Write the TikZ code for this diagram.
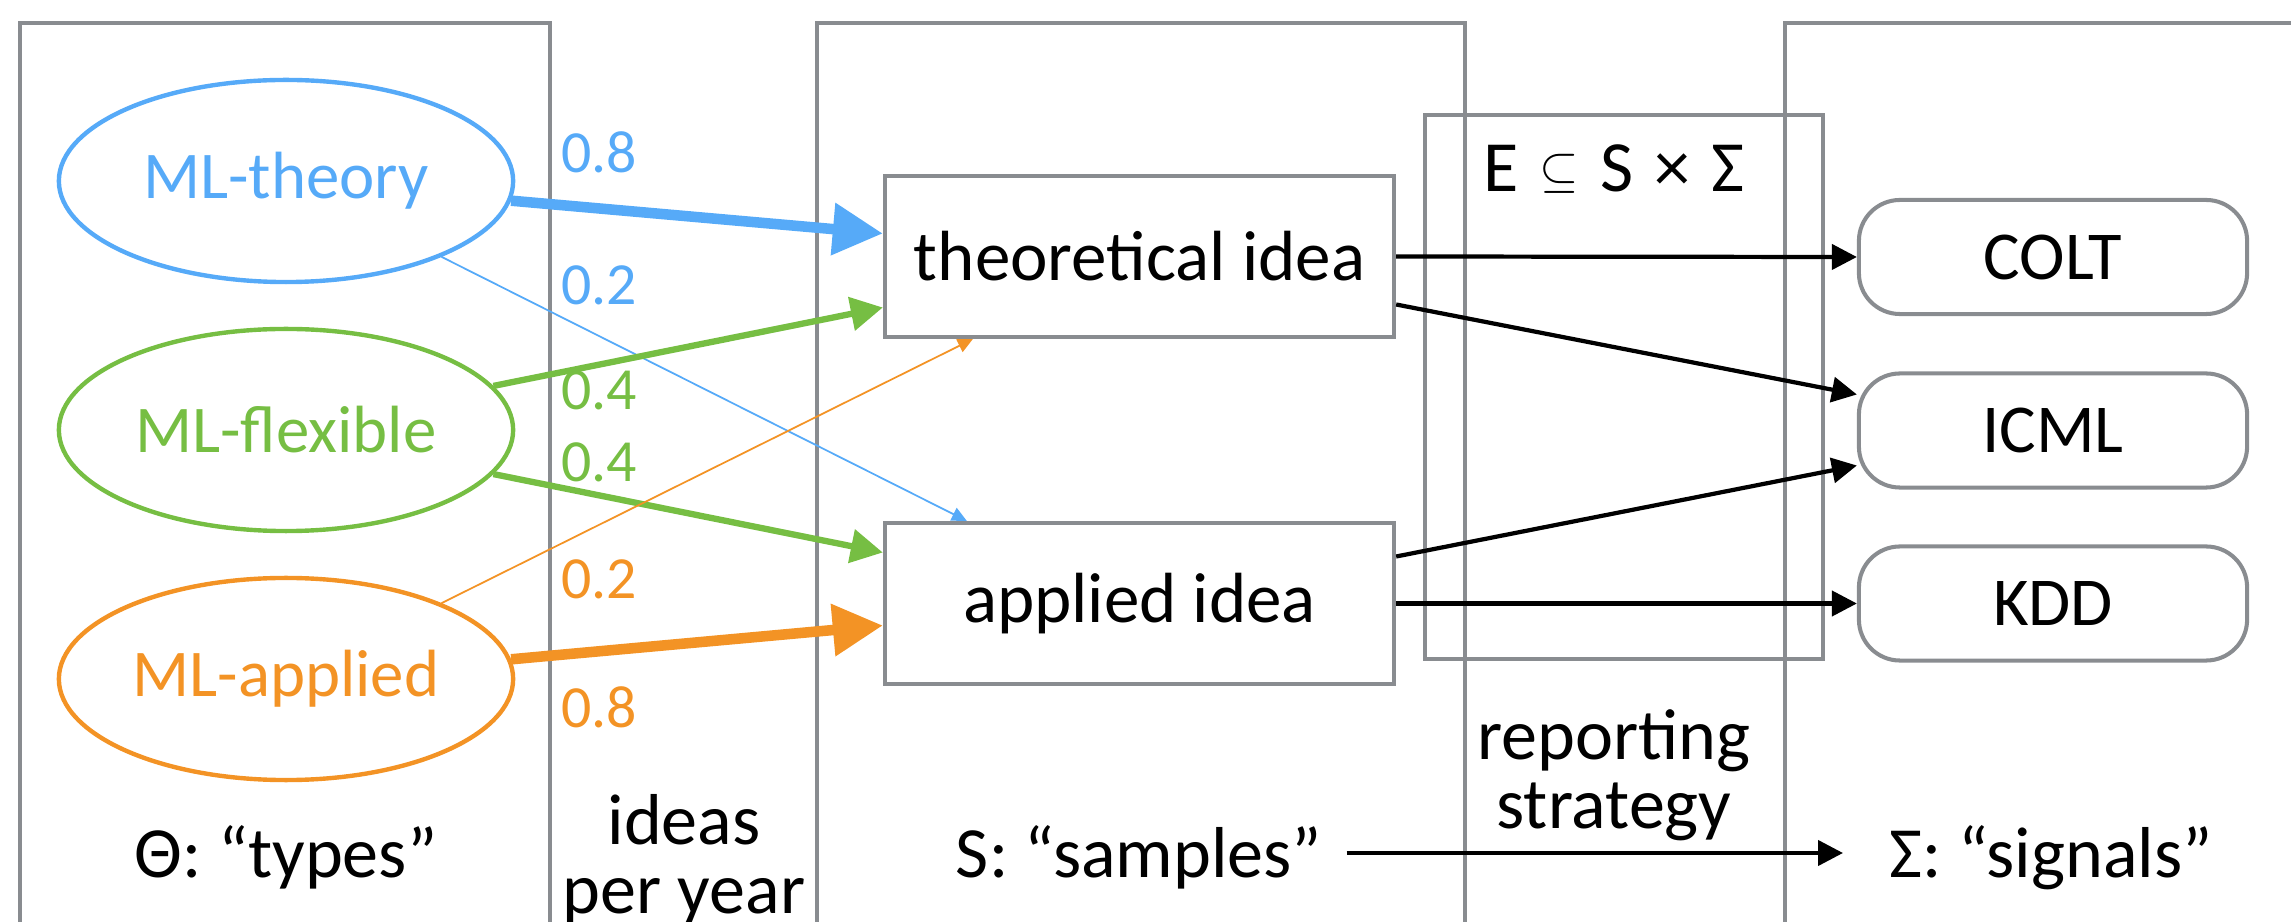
\documentclass[tikz,border=0pt]{standalone}
\usepackage{fontspec}
\setmainfont{Carlito}
\usetikzlibrary{arrows.meta,shapes.geometric,calc}
\definecolor{cblue}{RGB}{86,170,248}
\definecolor{cgreen}{RGB}{118,190,67}
\definecolor{corange}{RGB}{243,147,37}
\definecolor{cgray}{RGB}{137,140,144}
\tikzset{
  column/.style={draw=cgray,line width=1.15pt},
  typenode/.style={ellipse,draw,line width=1.25pt,inner sep=0pt,minimum width=4.54cm,minimum height=2.02cm},
  typetext/.style={font=\fontsize{19}{23}\selectfont},
  ideabox/.style={draw=cgray,line width=1.15pt,inner sep=0pt,minimum width=5.09cm,minimum height=1.61cm,font=\fontsize{20.2}{24}\selectfont},
  sigbox/.style={draw=cgray,line width=1.15pt,inner sep=0pt,rounded corners=0.41cm,minimum width=3.88cm,minimum height=1.14cm,font=\fontsize{19.5}{23}\selectfont},
  lbl/.style={font=\fontsize{20.5}{24}\selectfont},
  twoline/.style={align=center,font=\fontsize{20.5}{19.5}\selectfont},
  prob/.style={font=\fontsize{17}{20}\selectfont},
  thickarr/.style={line width=3pt,-{Triangle[length=0.5cm,width=0.5cm]}},
  midarr/.style={line width=1.8pt,-{Triangle[length=0.32cm,width=0.33cm]}},
  thinarr/.style={line width=0.5pt,-{Triangle[length=0.15cm,width=0.14cm]}},
  blackarr/.style={line width=1.2pt,-{Triangle[length=0.25cm,width=0.25cm]}},
}
\begin{document}
\begin{tikzpicture}[x=0.01cm,y=-0.01cm]
\useasboundingbox (0,0) rectangle (2291,922);
\begin{scope}
\clip (0,0) rectangle (2291,922);
% columns
\draw[column] (20,960) -- (20,23) -- (550,23) -- (550,960);
\draw[column] (817,960) -- (817,23) -- (1465,23) -- (1465,960);
\draw[column] (1785,960) -- (1785,23) -- (2320,23);
% E box
\node[draw=cgray,line width=1.15pt,minimum width=3.98cm,minimum height=5.44cm,inner sep=0pt] (ebox) at (1624,387) {};
\node[lbl,anchor=base] (elabel) at (1614,192) {E\hspace{6pt}{\fontsize{14}{14}\selectfont\raisebox{1.5pt}{$\subseteq$}}\hspace{6pt}S\hspace{6pt}×\hspace{6pt}Σ};
% types
\node[typenode,draw=cblue,label={[typetext,text=cblue]center:ML-theory}] (mlt) at (286,181) {};
\node[typenode,draw=cgreen,label={[typetext,text=cgreen]center:ML-flexible}] (mlf) at (286,430) {};
\node[typenode,draw=corange,label={[typetext,text=corange]center:ML-applied}] (mla) at (286,679) {};
% ideas
\node[ideabox] (thi) at (1139.5,256.5) {theoretical idea};
\node[ideabox] (api) at (1139.5,603.5) {applied idea};
% signals
\node[sigbox] (colt) at (2053,257) {COLT};
\node[sigbox] (icml) at (2053,430.5) {ICML};
\node[sigbox] (kdd) at (2053,603.5) {KDD};
% probabilities
\node[prob,text=cblue] (p1) at (599,152) {0.8};
\node[prob,text=cblue] (p2) at (599,285) {0.2};
\node[prob,text=cgreen] (p3) at (599,390) {0.4};
\node[prob,text=cgreen] (p4) at (599,462) {0.4};
\node[prob,text=corange] (p5) at (599,579) {0.2};
\node[prob,text=corange] (p6) at (599,707) {0.8};
% type arrows
\draw[thickarr,cblue] (mlt.-5) -- ($(thi.west)+(0,-23)$);
\draw[thinarr,cblue] (mlt.-26) -- ($(api.north west)+(84,0)$);
\draw[midarr,cgreen] (mlf.12) -- ($(thi.west)+(0,51)$);
\draw[midarr,cgreen] (mlf.-12) -- ($(api.west)+(0,-51)$);
\draw[thinarr,corange] (mla.26) -- ($(thi.south west)+(90,0)$);
\draw[thickarr,corange] (mla.5) -- ($(api.west)+(0,22)$);
% reporting arrows
\draw[blackarr] (thi.east) -- (colt.west);
\draw[blackarr] ($(thi.east)+(0,48)$) -- ($(icml.west)+(0,-36)$);
\draw[blackarr] ($(api.east)+(0,-47)$) -- ($(icml.west)+(0,35)$);
\draw[blackarr] (api.east) -- (kdd.west);
% bottom labels
\node[lbl,anchor=base] (types) at (286,877) {Θ: “types”};
\node[twoline] (ideas) at (684,860) {ideas\\per year};
\node[lbl,anchor=base] (samples) at (1139,877) {S: “samples”};
\node[twoline] (rep) at (1614,775) {reporting\\strategy};
\node[lbl,anchor=base] (signals) at (2051,877) {Σ: “signals”};
\coordinate (sa) at ($(samples.base east)+(12,-24)$);
\coordinate (sb) at ($(signals.base west)+(-34,-24)$);
\draw[blackarr] (sa) -- (sb);
\end{scope}
\end{tikzpicture}
\end{document}
